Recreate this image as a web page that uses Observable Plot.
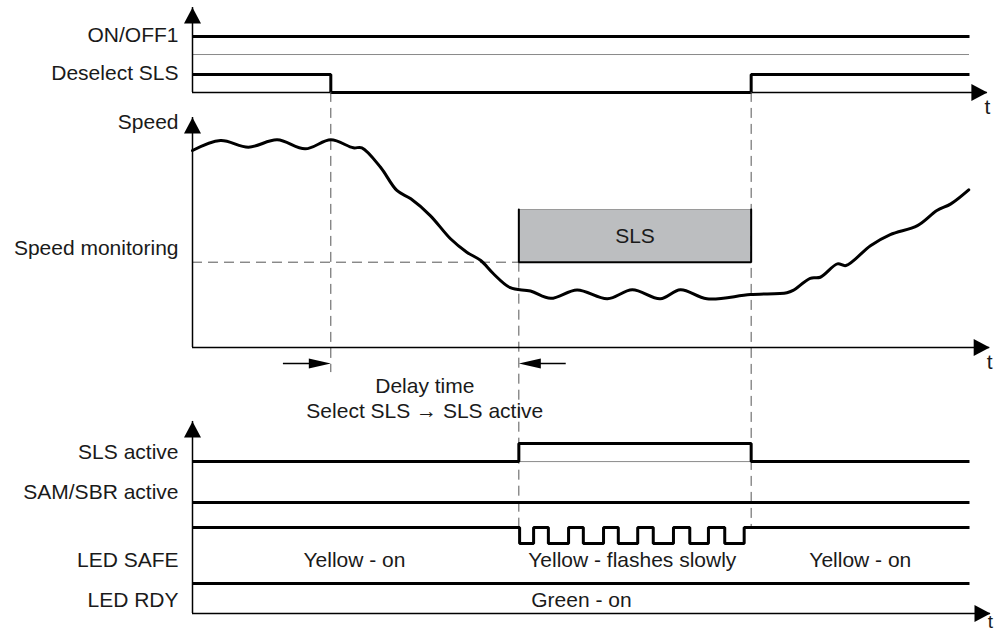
<!DOCTYPE html>
<html>
<head>
<meta charset="utf-8">
<script src="https://cdn.jsdelivr.net/npm/d3@7"></script>
<script src="https://cdn.jsdelivr.net/npm/@observablehq/plot@0.6"></script>
<style>
  html, body { margin: 0; padding: 0; background: #fff; }
  #chart { position: relative; width: 999px; height: 632px; overflow: hidden; background: #fff; }
</style>
</head>
<body>
<div id="chart"></div>
<script>
// ================= DATA (time in arbitrary units 0–100) =================
const eventNames = ["Select SLS", "SLS active", "Deselect SLS"];
const eventTimes = [17.8, 42.0, 71.9];

// binary signals as [time, level] step points
const onOff1       = [[0, 1], [100, 1]];
const deselectSLS  = [[0, 1], [17.8, 0], [71.9, 1], [100, 1]];
const slsActive    = [[0, 0], [42.0, 1], [71.9, 0], [100, 0]];
const samSbrActive = [[0, 0], [100, 0]];
const ledSafe      = [[0, 1], [42.1, 0], [43.9, 1], [45.8, 0], [48.4, 1], [50.3, 0], [52.9, 1], [54.8, 0],
                      [57.3, 1], [59.3, 0], [61.9, 1], [64.0, 0], [66.4, 1], [68.5, 0], [71.0, 1], [100, 1]];
const ledRdy       = [[0, 1], [100, 1]];

// speed curve (% of initial speed)
const speedTime  = [0, 3.6, 7.2, 10.9, 14.5, 17.8, 20.7, 21.8, 24.2, 26.3, 28.1, 30.6, 33.2, 35.3, 37.1, 38.7,
                    40.9, 43.5, 46.1, 49.5, 53.4, 56.6, 60.2, 62.8, 66.2, 71.8, 76.5, 77.3, 79.5, 80.8, 83.0,
                    84.1, 87.3, 89.8, 93.3, 95.8, 97.6, 99.9];
const speedValue = [94.2, 99.0, 95.8, 99.3, 95.0, 99.3, 95.5, 95.5, 86.2, 75.1, 71.1, 63.1, 52.0, 45.6, 41.6, 35.4,
                    28.6, 27.0, 23.5, 27.5, 23.3, 27.6, 23.3, 27.6, 23.3, 25.3, 26.2, 27.3, 33.1, 33.6, 40.0,
                    39.2, 48.8, 54.0, 58.3, 65.5, 68.7, 75.4];
const speedMonitoringLimit = 40.8;
const slsBandTop = 66.0;

// texts
const ledSafeStates = ["Yellow - on", "Yellow - flashes slowly", "Yellow - on"];
const ledRdyStates  = ["Green - on"];
const delayText     = ["Delay time", "Select SLS \u2192 SLS active"];

// ================= LAYOUT (positions / styles) =================
const [tSelect, tSlsOn, tSlsOff] = eventTimes;
const FONT = "'Liberation Sans', Arial, Helvetica, sans-serif";
const FS = 21;
const INK = "#1a1a1a";
const W = 999, H = 632;
const xScale = {domain: [0, 100], range: [192, 969], axis: null};

const topLanes = [
  {name: "ON/OFF1",      data: onOff1,      base: 2.11, amp: 1, label: 3.19, thin: true},
  {name: "Deselect SLS", data: deselectSLS, base: 0,    amp: 1, label: 1.08, thin: false}
];
const bottomLanes = [
  {name: "SLS active",     data: slsActive,    base: 8.44, amp: 1,    label: 8.97, thin: true},
  {name: "SAM/SBR active", data: samSbrActive, base: 6.17, amp: 1,    label: 6.75, thin: false},
  {name: "LED SAFE",       data: ledSafe,      base: 3.89, amp: 0.89, label: 2.97, thin: false},
  {name: "LED RDY",        data: ledRdy,       base: 0.67, amp: 1,    label: 0.75, thin: false}
];

// filled arrow-head symbols, tip at the origin
const sym = pts => ({draw(ctx) { ctx.moveTo(0, 0); pts.forEach(([a, b]) => ctx.lineTo(a, b)); ctx.closePath(); }});
const upHead    = sym([[-8.5, 16], [8.5, 16]]);
const rightHead = sym([[-16, -8.5], [-16, 8.5]]);
const smallRight = sym([[-22, -5], [-22, 5]]);
const smallLeft  = sym([[22, -5], [22, 5]]);

const svgStyle = {position: "absolute", left: "0px", top: "0px", background: "transparent",
                  overflow: "visible", fontFamily: FONT, fontSize: FS + "px", color: INK};

function overlay(y, marks) {
  return Plot.plot({width: W, height: H, margin: 0, x: xScale, y: {...y, axis: null}, style: svgStyle, marks});
}

const laneLines = lanes => lanes.flatMap(l => l.data.map(([t, v]) => ({t, y: l.base + v * l.amp, lane: l.name})));
const txt = (data, opts) => Plot.text(data, {fontFamily: FONT, fontSize: FS, fill: INK, ...opts});
const axisMarks = (tipY, tipX) => [
  Plot.ruleX([0], {x: d => 0, y1: d => 0, y2: d => tipY, stroke: "#000", strokeWidth: 1.5}),
  Plot.ruleY([0], {y: d => 0, x1: d => 0, x2: d => tipX, stroke: "#000", strokeWidth: 1.5}),
  Plot.dot([[0, tipY]], {symbol: upHead, fill: "#000", stroke: "none"}),
  Plot.dot([[tipX, 0]], {symbol: rightHead, fill: "#000", stroke: "none"})
];
const laneMarks = lanes => [
  Plot.ruleY(lanes.filter(l => l.thin), {y: "base", x1: d => 0, x2: d => 100, stroke: "#8a8a8a", strokeWidth: 1}),
  Plot.line(laneLines(lanes), {x: "t", y: "y", z: "lane", curve: "step-after", stroke: "#000",
                               strokeWidth: 3, strokeLinejoin: "miter", strokeLinecap: "butt"}),
  txt(lanes, {x: d => 0, y: "label", text: "name", dx: -14, textAnchor: "end"})
];

// ---- top signals ----
const topPlot = overlay({domain: [0, 1], range: [92, 74]}, [
  ...laneMarks(topLanes),
  ...axisMarks(4.72, 102.3),
  txt(["t"], {x: d => 102.3, y: d => -0.83, text: d => d})
]);

// ---- speed panel ----
const guides = [
  {t: tSelect, y1: 122, y2: -12},
  {t: tSlsOn,  y1: speedMonitoringLimit, y2: -86},
  {t: tSlsOff, y1: 122, y2: -86}
];
const band = [{x1: tSlsOn, x2: tSlsOff, y1: speedMonitoringLimit, y2: slsBandTop}];
const delayY = -7.65;
const speedPlot = overlay({domain: [0, 110], range: [347, 117]}, [
  Plot.rect(band, {x1: "x1", x2: "x2", y1: "y1", y2: "y2", fill: "#bcbec0"}),
  Plot.ruleX(guides, {x: "t", y1: "y1", y2: "y2", stroke: "#555", strokeWidth: 1, strokeDasharray: "10,6"}),
  Plot.ruleY([speedMonitoringLimit], {y: d => d, x1: d => 0, x2: d => tSlsOn, stroke: "#555", strokeWidth: 1, strokeDasharray: "10,6"}),
  Plot.line([[tSlsOn, slsBandTop], [tSlsOff, slsBandTop]], {stroke: "#9a9a9a", strokeWidth: 1}),
  Plot.line([[tSlsOn, slsBandTop], [tSlsOn, speedMonitoringLimit], [tSlsOff, speedMonitoringLimit], [tSlsOff, slsBandTop]],
            {stroke: "#000", strokeWidth: 2, strokeLinejoin: "miter"}),
  txt(["SLS"], {x: d => (tSlsOn + tSlsOff) / 2, y: d => (speedMonitoringLimit + slsBandTop) / 2, text: d => d}),
  ...axisMarks(110, 102.6),
  Plot.line(speedTime.map((t, i) => [t, speedValue[i]]), {curve: "catmull-rom", stroke: "#000", strokeWidth: 3, strokeLinejoin: "round"}),
  txt(["Speed"], {x: d => 0, y: d => 107.6, text: d => d, dx: -14, textAnchor: "end"}),
  txt(["Speed monitoring"], {x: d => 0, y: d => 47.3, text: d => d, dx: -14, textAnchor: "end"}),
  txt(["t"], {x: d => 102.6, y: d => -7.2, text: d => d}),
  // delay annotation
  Plot.ruleY([delayY], {y: d => d, x1: d => tSelect - 6.1, x2: d => tSelect - 2, stroke: "#000", strokeWidth: 1.5}),
  Plot.ruleY([delayY], {y: d => d, x1: d => tSlsOn + 2, x2: d => tSlsOn + 6.1, stroke: "#000", strokeWidth: 1.5}),
  Plot.dot([[tSelect, delayY]], {symbol: smallRight, fill: "#000", stroke: "none"}),
  Plot.dot([[tSlsOn, delayY]], {symbol: smallLeft, fill: "#000", stroke: "none"}),
  txt(delayText, {x: d => (tSelect + tSlsOn) / 2, y: (d, i) => -18.7 - i * 11.95, text: d => d})
]);

// ---- bottom signals ----
const stateX = [20.85, 56.6, 85.95];
const bottomPlot = overlay({domain: [0, 1], range: [613, 595]}, [
  ...laneMarks(bottomLanes),
  ...axisMarks(10.67, 102.7),
  txt(ledSafeStates, {x: (d, i) => stateX[i], y: d => 2.97, text: d => d}),
  txt(ledRdyStates, {x: d => 50.06, y: d => 0.75, text: d => d}),
  txt(["t"], {x: d => 102.7, y: d => -0.45, text: d => d, fontSize: 19})
]);

document.getElementById("chart").append(topPlot, speedPlot, bottomPlot);
</script>
</body>
</html>
